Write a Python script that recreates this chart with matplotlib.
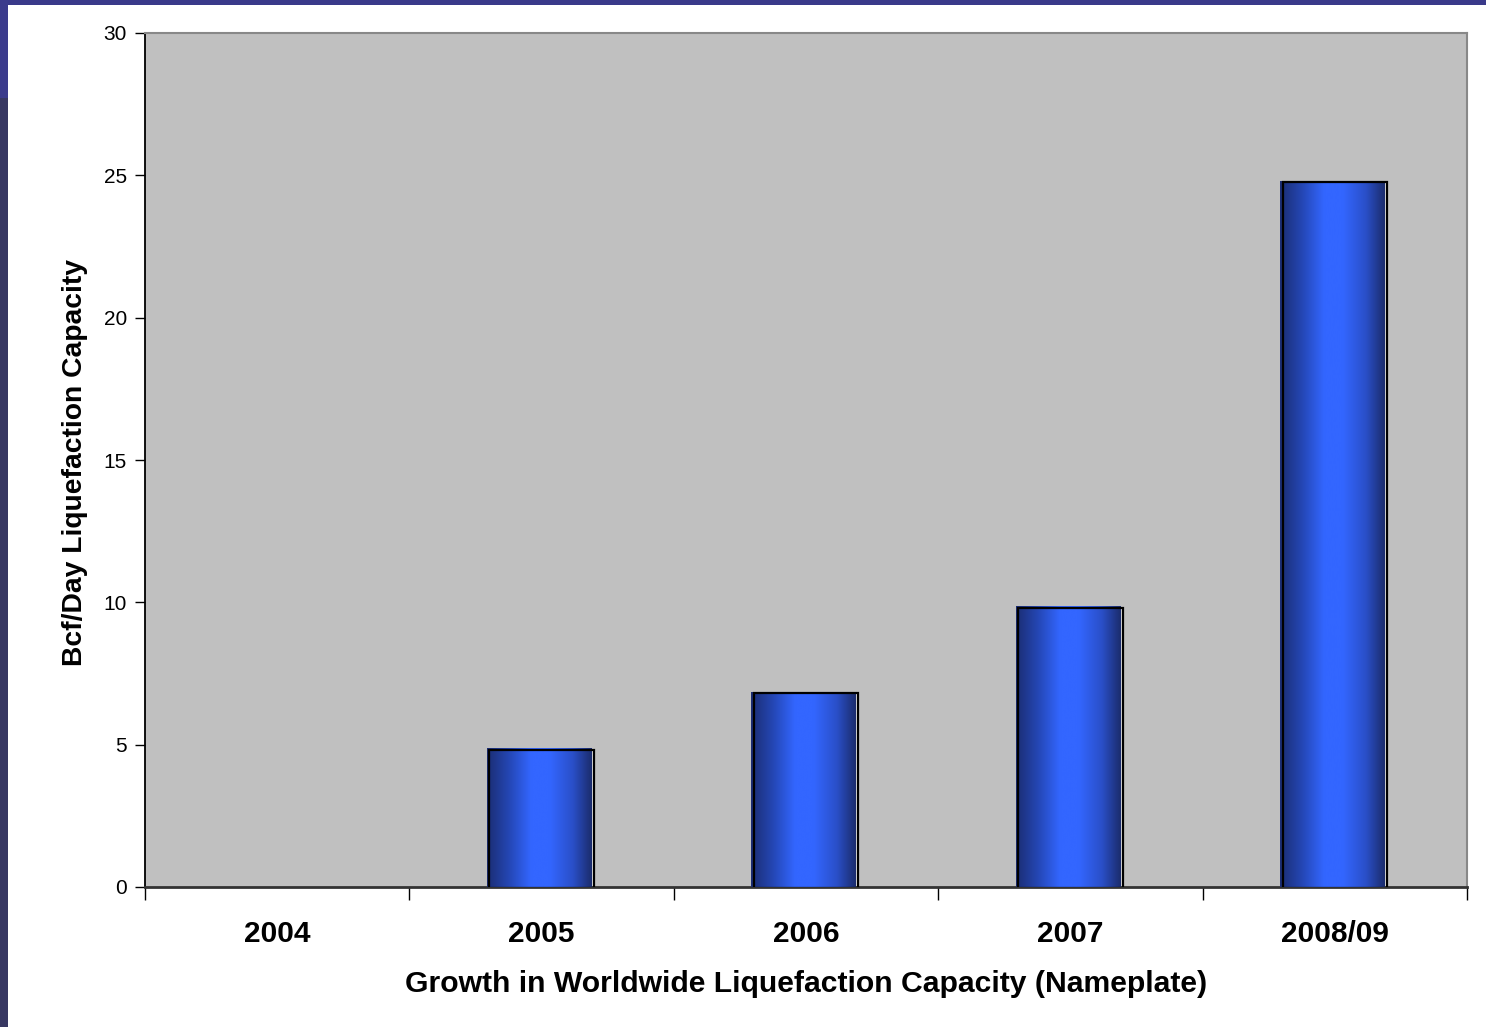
import numpy as np
import matplotlib
matplotlib.use("Agg")
import matplotlib.pyplot as plt
from matplotlib.patches import Rectangle
from matplotlib.colors import LinearSegmentedColormap
from matplotlib.transforms import ScaledTranslation

plt.rcParams['font.family'] = ['Liberation Sans', 'DejaVu Sans']

# data
years = ["2004", "2005", "2006", "2007", "2008/09"]
capacity = [0, 4.85, 6.85, 9.85, 24.8]
y_ticks = [0, 5, 10, 15, 20, 25, 30]
x_title = "Growth in Worldwide Liquefaction Capacity (Nameplate)"
y_title = "Bcf/Day Liquefaction Capacity"

W, H, DPI = 1486, 1027, 100
fig = plt.figure(figsize=(W / DPI, H / DPI), dpi=DPI)
fig.patch.set_facecolor("white")

# slide frame: top band and left strip
fig.add_artist(Rectangle((0, 1 - 5 / H), 1, 5 / H, transform=fig.transFigure,
                         facecolor="#3a3a8a", edgecolor="none"))
fig.add_artist(Rectangle((0, 1 - 98 / H), 8 / W, 98 / H, transform=fig.transFigure,
                         facecolor="#3b3b8c", edgecolor="none"))
fig.add_artist(Rectangle((0, 0), 8 / W, 1 - 98 / H, transform=fig.transFigure,
                         facecolor="#383862", edgecolor="none"))

ax = fig.add_axes([145 / W, 140 / H, 1322 / W, 854 / H])
ax.set_facecolor("#c0c0c0")

cmap = LinearSegmentedColormap.from_list("bar", [
    (0.0, "#1b2d72"), (0.22, "#2548b8"), (0.42, "#3366ff"),
    (0.6, "#3366ff"), (0.82, "#2a4fc8"), (1.0, "#1b2c6c")])
grad = np.linspace(0, 1, 256).reshape(1, -1)

bar_w = 0.395
nudge = ScaledTranslation(-2.5 / DPI, 0, fig.dpi_scale_trans)
bar_tr = ax.transData + nudge
shadow_tr = ax.transData + nudge + ScaledTranslation(2.5 / DPI, -1 / DPI, fig.dpi_scale_trans)
for i, v in enumerate(capacity):
    if v <= 0:
        continue
    x0 = i - bar_w / 2
    ax.add_patch(Rectangle((x0, 0), bar_w, v, transform=shadow_tr,
                           facecolor="#e4e4e4", edgecolor="none", zorder=2.5))
    im = ax.imshow(grad, extent=[x0, x0 + bar_w, 0, v], aspect="auto", cmap=cmap,
                   interpolation="bicubic", zorder=3)
    im.set_transform(bar_tr)
    ax.add_patch(Rectangle((x0, 0), bar_w, v, transform=shadow_tr, fill=False,
                           edgecolor="black", linewidth=1.6, zorder=4))

ax.set_xlim(-0.5, len(years) - 0.5)
ax.set_ylim(0, 30)

# category boundaries get the tick marks, centres get the labels
ax.set_xticks(np.arange(-0.5, len(years)), [])
ax.set_xticks(range(len(years)), years, minor=True)
ax.tick_params(axis="x", which="major", length=9, width=1, color="black", direction="out")
ax.tick_params(axis="x", which="minor", length=0, pad=24, labelsize=21.5)
for lab in ax.get_xticklabels(minor=True):
    lab.set_fontweight("bold")

ax.set_yticks(y_ticks)
ax.tick_params(axis="y", length=7, width=1, color="black", pad=6, labelsize=15)

ax.spines["left"].set_color("black")
ax.spines["left"].set_linewidth(1.3)
ax.spines["bottom"].set_color("#333333")
ax.spines["bottom"].set_linewidth(2)
for s in ("top", "right"):
    ax.spines[s].set_color("#888888")
    ax.spines[s].set_linewidth(1.5)

fig.text((145 + 661) / W, (H - 992) / H, x_title, ha="center", va="baseline",
         fontsize=21.7, fontweight="bold")
fig.text(75 / W, (H - 462) / H, y_title, ha="center", va="center", rotation=90,
         fontsize=20.3, fontweight="bold")

fig.savefig("out.png", dpi=DPI)
